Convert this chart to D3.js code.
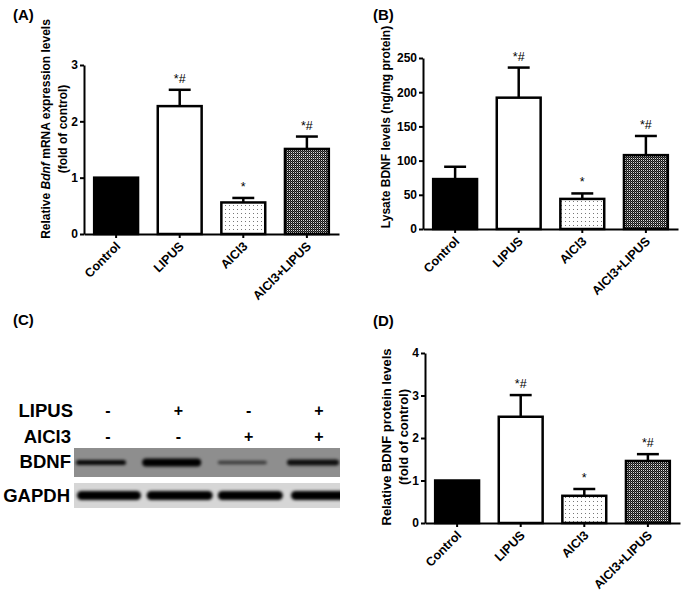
<!DOCTYPE html>
<html>
<head>
<meta charset="utf-8">
<script src="https://cdnjs.cloudflare.com/ajax/libs/d3/7.8.5/d3.min.js"></script>
<style>
  body { margin: 0; background: #fff; }
  svg text { font-family: "Liberation Sans", Arial, sans-serif; }
</style>
</head>
<body>
<div id="fig"></div>
<script>
(function() {
"use strict"

var W = 682, H = 592;

// ---- data ----
var categories = ["Control", "LIPUS", "AlCl3", "AlCl3+LIPUS"];
var fills = ["solid", "empty", "dots", "checker"];
var marks = ["", "*#", "*", "*#"];

// (A) Bdnf mRNA, fold of control
var mrnaMean = [1.0, 2.27, 0.56, 1.51];
var mrnaErr  = [0, 0.29, 0.08, 0.22];
var mrnaTicks = [0, 1, 2, 3];

// (B) lysate BDNF, ng/mg protein
var lysateMean = [73, 192, 44, 108];
var lysateErr  = [18, 44, 8, 28];
var lysateTicks = [0, 50, 100, 150, 200, 250];

// (D) BDNF protein, fold of control
var proteinMean = [1.0, 2.50, 0.64, 1.46];
var proteinErr  = [0, 0.51, 0.16, 0.16];
var proteinTicks = [0, 1, 2, 3, 4];

// (C) western blot
var lanes = [0, 1, 2, 3];
var lipusSigns = ["-", "+", "-", "+"];
var alcl3Signs = ["-", "-", "+", "+"];
var bdnfWidth = [50, 59, 49, 52];     // band length
var bdnfThick = [5, 8, 3.5, 6];       // band thickness
var bdnfDark  = [0.95, 1.0, 0.6, 0.9];
var gapdhWidth = [64, 66, 65, 60];
var gapdhThick = [9, 9, 9, 9];
var gapdhDark  = [1.0, 1.0, 1.0, 1.0];

var svg = d3.select("#fig").append("svg")
    .attr("width", W)
    .attr("height", H)
    .style("background", "#fff");

var defs = svg.append("defs");

// light dotted fill
var pd = defs.append("pattern").attr("id", "dots")
    .attr("patternUnits", "userSpaceOnUse").attr("width", 4).attr("height", 4);
pd.append("rect").attr("width", 4).attr("height", 4).attr("fill", "#fff");
pd.append("rect").attr("x", 1).attr("y", 1).attr("width", 1).attr("height", 1).attr("fill", "#777");

// dense dark checker fill
var pc = defs.append("pattern").attr("id", "checker")
    .attr("patternUnits", "userSpaceOnUse").attr("width", 2).attr("height", 2);
pc.append("rect").attr("width", 2).attr("height", 2).attr("fill", "#555");
pc.append("rect").attr("width", 1).attr("height", 1).attr("fill", "#111");
pc.append("rect").attr("x", 1).attr("y", 1).attr("width", 1).attr("height", 1).attr("fill", "#111");
pc.append("rect").attr("x", 1).attr("y", 0).attr("width", 1).attr("height", 1).attr("fill", "#ddd");

defs.append("filter").attr("id", "blur")
    .attr("x", "-20%").attr("y", "-100%").attr("width", "140%").attr("height", "300%")
  .append("feGaussianBlur").attr("stdDeviation", 1.6);

var fillOf = function(f) {
    if (f === "solid") return "#000";
    if (f === "empty") return "#fff";
    return "url(#" + f + ")";
};

var panelLabel = function(txt, x, y) {
    svg.append("text")
        .attr("x", x).attr("y", y)
        .style("font-size", "15px").style("font-weight", "bold")
        .text(txt);
};

var barPanel = function(cfg) {
    // bar chart with upper error bars and significance marks
    var g = svg.append("g");

    var x = d3.scaleBand()
        .domain(categories)
        .range(cfg.xr)
        .paddingInner(0.31)
        .paddingOuter(0.16);

    var y = d3.scaleLinear()
        .domain(cfg.dom)
        .range(cfg.yr);

    var rows = categories.map(function(c, i) {
        return {c: c, m: cfg.mean[i], e: cfg.err[i], f: fills[i], s: marks[i]};
    });

    // bars
    g.selectAll("rect.bar").data(rows).enter().append("rect")
        .attr("class", "bar")
        .attr("x", function(d) { return x(d.c); })
        .attr("y", function(d) { return y(d.m); })
        .attr("width", x.bandwidth())
        .attr("height", function(d) { return y(0) - y(d.m); })
        .attr("fill", function(d) { return fillOf(d.f); })
        .attr("stroke", "#000")
        .attr("stroke-width", 2.5);

    // error bars (upper only)
    var eb = rows.filter(function(d) { return d.e > 0; });
    g.selectAll("line.err").data(eb).enter().append("line")
        .attr("x1", function(d) { return x(d.c) + x.bandwidth() / 2; })
        .attr("x2", function(d) { return x(d.c) + x.bandwidth() / 2; })
        .attr("y1", function(d) { return y(d.m); })
        .attr("y2", function(d) { return y(d.m + d.e); })
        .attr("stroke", "#000").attr("stroke-width", 2.5);
    g.selectAll("line.cap").data(eb).enter().append("line")
        .attr("x1", function(d) { return x(d.c) + x.bandwidth() / 4; })
        .attr("x2", function(d) { return x(d.c) + x.bandwidth() * 3 / 4; })
        .attr("y1", function(d) { return y(d.m + d.e); })
        .attr("y2", function(d) { return y(d.m + d.e); })
        .attr("stroke", "#000").attr("stroke-width", 2.5);

    // * / *# marks
    g.selectAll("text.sig").data(rows.filter(function(d) { return d.s; })).enter().append("text")
        .attr("x", function(d) { return x(d.c) + x.bandwidth() / 2; })
        .attr("y", function(d) { return y(d.m + d.e) - 7; })
        .attr("text-anchor", "middle")
        .style("font-size", "12.5px")
        .text(function(d) { return d.s; });

    // y axis
    var ya = g.append("g")
        .attr("transform", "translate(" + cfg.xr[0] + ",0)")
        .call(d3.axisLeft(y).tickValues(cfg.ticks).tickFormat(d3.format("d"))
            .tickSize(4).tickSizeOuter(0).tickPadding(2));
    ya.select(".domain").attr("stroke-width", 2);
    ya.selectAll(".tick line").attr("stroke-width", 2);
    ya.selectAll("text").style("font-size", "12px").style("font-weight", "bold")
        .style("font-family", "Liberation Sans, Arial, sans-serif");

    // x axis
    var xa = g.append("g")
        .attr("transform", "translate(0," + cfg.yr[0] + ")")
        .call(d3.axisBottom(x).tickSize(4).tickSizeOuter(0));
    xa.select(".domain").attr("stroke-width", 2);
    xa.selectAll(".tick line").attr("stroke-width", 2);
    xa.selectAll("text")
        .attr("x", 0).attr("y", 0).attr("dy", null)
        .attr("transform", "translate(5,13) rotate(-45)")
        .attr("text-anchor", "end")
        .style("font-size", "12.5px").style("font-weight", "bold")
        .style("font-family", "Liberation Sans, Arial, sans-serif");

    // y label
    var lab = g.append("text")
        .attr("transform", "translate(" + cfg.labX + "," + cfg.labY + ") rotate(-90)")
        .attr("text-anchor", "middle")
        .style("font-size", cfg.labSize + "px").style("font-weight", "bold");
    cfg.label.forEach(function(line, i) {
        var t = lab.append("tspan")
            .attr("x", 0)
            .attr("y", (i - (cfg.label.length - 1) / 2) * 17)
            .attr("dy", "0.35em");
        line.forEach(function(part) {
            t.append("tspan")
                .style("font-style", part[1] ? "italic" : "normal")
                .text(part[0]);
        });
    });
};

// ---- (A) ----
panelLabel("(A)", 13, 20);
barPanel({
    xr: [84, 339], yr: [234, 65], dom: [0, 3], ticks: mrnaTicks,
    mean: mrnaMean, err: mrnaErr,
    labX: 54.5, labY: 129, labSize: 12,
    label: [[["Relative ", 0], ["Bdnf", 1], [" mRNA expression levels", 0]],
            [["(fold of control)", 0]]]
});

// ---- (B) ----
panelLabel("(B)", 373, 20);
barPanel({
    xr: [423, 678], yr: [229, 58], dom: [0, 250], ticks: lysateTicks,
    mean: lysateMean, err: lysateErr,
    labX: 386, labY: 127, labSize: 12,
    label: [[["Lysate BDNF levels (ng/mg protein)", 0]]]
});

// ---- (D) ----
panelLabel("(D)", 373, 326);
barPanel({
    xr: [425, 680], yr: [523, 353], dom: [0, 4], ticks: proteinTicks,
    mean: proteinMean, err: proteinErr,
    labX: 394.5, labY: 437, labSize: 13,
    label: [[["Relative BDNF protein levels", 0]],
            [["(fold of control)", 0]]]
});

// ---- (C) western blot ----
panelLabel("(C)", 13, 325);

var lane = d3.scalePoint().domain(lanes).range([106, 318]);
var sign = d3.scalePoint().domain(lanes).range([108, 319]);
var blot = svg.append("g");

var rowText = function(txt, xr, yb) {
    blot.append("text").attr("x", xr).attr("y", yb)
        .attr("text-anchor", "end")
        .style("font-size", "18.5px").style("font-weight", "bold")
        .text(txt);
};
rowText("LIPUS", 73, 417);
rowText("AlCl3", 71, 443);
rowText("BDNF", 71, 468);
rowText("GAPDH", 70, 502);

[[lipusSigns, 416], [alcl3Signs, 442]].forEach(function(r) {
    blot.selectAll(null).data(lanes).enter().append("text")
        .attr("x", function(d) { return sign(d); })
        .attr("y", r[1])
        .attr("text-anchor", "middle")
        .style("font-size", "16px").style("font-weight", "bold")
        .text(function(d) { return r[0][d]; });
});

var strip = function(id, y0, h, bg, widths, thick, dark, shift) {
    defs.append("clipPath").attr("id", id)
      .append("rect").attr("x", 74).attr("y", y0).attr("width", 266).attr("height", h);
    var s = blot.append("g").attr("clip-path", "url(#" + id + ")");
    s.append("rect").attr("x", 74).attr("y", y0).attr("width", 266).attr("height", h).attr("fill", bg);
    s.selectAll(null).data(lanes).enter().append("rect")
        .attr("x", function(d) { return lane(d) + shift - widths[d] / 2; })
        .attr("y", function(d) { return y0 + h / 2 - thick[d] / 2; })
        .attr("width", function(d) { return widths[d]; })
        .attr("height", function(d) { return thick[d]; })
        .attr("rx", function(d) { return thick[d] / 2; })
        .attr("fill", "#000")
        .attr("opacity", function(d) { return dark[d]; })
        .attr("filter", "url(#blur)");
};
strip("clipB", 448, 29, "#8e8e8e", bdnfWidth, bdnfThick, bdnfDark, -5);
strip("clipG", 483, 25, "#d6d6d6", gapdhWidth, gapdhThick, gapdhDark, 3);

})();
</script>
</body>
</html>
